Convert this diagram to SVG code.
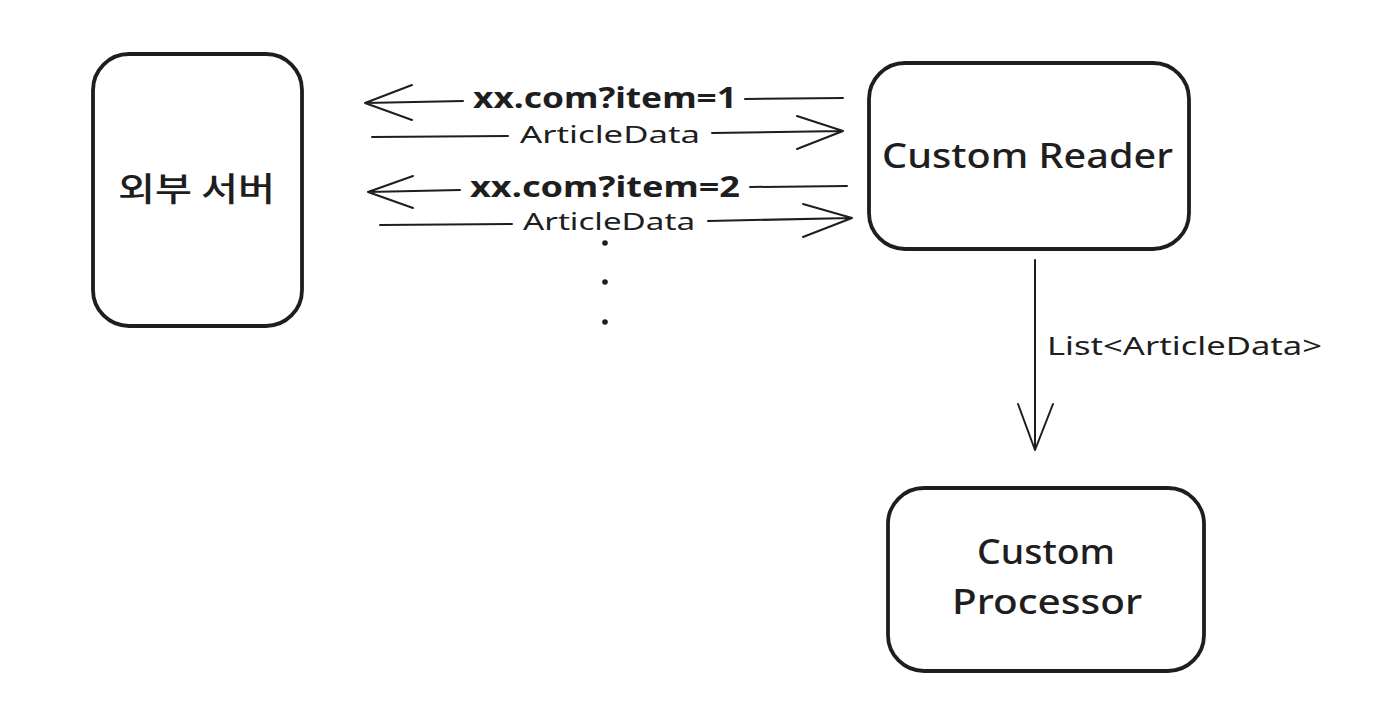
<svg xmlns="http://www.w3.org/2000/svg" width="1394" height="728" viewBox="0 0 1394 728">
<style>
.box{fill:#ffffff;stroke:#1e1e1e;stroke-width:3.8}
.ln{fill:none;stroke:#1e1e1e;stroke-width:2;stroke-linecap:round;stroke-linejoin:round}
.t{fill:#1e1e1e;font-family:"Noto Sans","Liberation Sans",sans-serif}
.kr{fill:#1e1e1e;font-family:"Noto Sans CJK KR",sans-serif;font-weight:500}
</style>
<rect width="1394" height="728" fill="#ffffff"/>
<g id="node-external-server">
<rect class="box" x="93" y="54" width="209" height="272" rx="36"/>
<text class="kr" x="196.5" y="201" font-size="33" text-anchor="middle" textLength="157" lengthAdjust="spacingAndGlyphs">외부 서버</text>
</g>
<g id="node-custom-reader">
<rect class="box" x="869" y="63" width="320" height="186" rx="36"/>
<text class="t" x="1027.5" y="168" font-size="35" font-weight="500" text-anchor="middle" textLength="291" lengthAdjust="spacingAndGlyphs">Custom Reader</text>
</g>
<g id="node-custom-processor">
<rect class="box" x="888" y="488" width="316" height="183" rx="36"/>
<text class="t" x="1046" y="564" font-size="35" font-weight="500" text-anchor="middle" textLength="138" lengthAdjust="spacingAndGlyphs">Custom</text>
<text class="t" x="1047" y="614" font-size="35" font-weight="500" text-anchor="middle" textLength="190" lengthAdjust="spacingAndGlyphs">Processor</text>
</g>
<g id="connectors">
<path class="ln" d="M843 98 L745 99 M463 101 L365 103 M412 85 L365 103 L412 120"/>
<text class="t" x="473" y="108" font-size="28" font-weight="bold" textLength="264" lengthAdjust="spacingAndGlyphs">xx.com?item=1</text>
<path class="ln" d="M372 137 L508 136 M712 133 L843 131 M797 116 L843 131 L797 149"/>
<text class="t" x="520" y="143" font-size="23" textLength="180" lengthAdjust="spacingAndGlyphs">ArticleData</text>
<path class="ln" d="M847 186 L750 187 M460 190 L368 192 M413 176 L368 192 L413 208"/>
<text class="t" x="470" y="197" font-size="28" font-weight="bold" textLength="270" lengthAdjust="spacingAndGlyphs">xx.com?item=2</text>
<path class="ln" d="M380 225 L512 224 M708 221 L852 218 M803 204 L852 218 L803 237"/>
<text class="t" x="523" y="230" font-size="23" textLength="172" lengthAdjust="spacingAndGlyphs">ArticleData</text>
<path class="ln" d="M1035 260 L1035 450 M1018 404 L1035 450 L1053 404"/>
<text class="t" x="1047" y="355" font-size="26" textLength="275" lengthAdjust="spacingAndGlyphs">List&lt;ArticleData&gt;</text>
</g>
<g id="ellipsis">
<circle cx="605" cy="243" r="2.8" fill="#1e1e1e"/>
<circle cx="605" cy="282" r="2.8" fill="#1e1e1e"/>
<circle cx="605" cy="322" r="2.8" fill="#1e1e1e"/>
</g>
</svg>
